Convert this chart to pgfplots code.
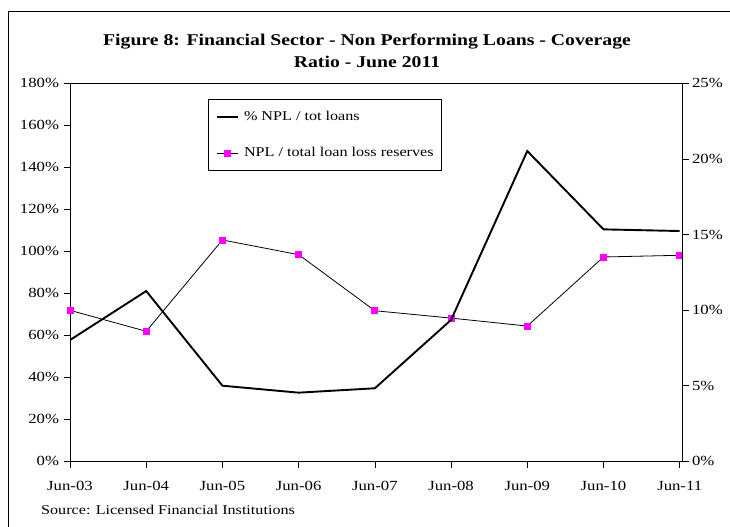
\documentclass[border=0pt]{standalone}
\usepackage{pgfplots}
\pgfplotsset{compat=1.18}
\usepackage{fontspec}
\setmainfont{Liberation Serif}[FakeStretch=1.2]
\definecolor{mag}{RGB}{255,0,255}

% NPL / total loan loss reserves (left axis, %)
\pgfplotstableread{
x ratio
0 71.9
1 61.9
2 105.4
3 98.4
4 71.7
5 68.2
6 64.4
7 97.3
8 98.1
}\coverage

% % NPL / tot loans (right axis, %)
\pgfplotstableread{
x npl
0 8.02
1 11.26
2 5.00
3 4.54
4 4.83
5 9.35
6 20.52
7 15.34
8 15.23
}\nplratio

\begin{document}
\begin{tikzpicture}
\useasboundingbox (0,0) rectangle (730bp,-527bp);
\draw[line width=0.8bp] (8bp,-527bp) -- (8bp,-11bp) -- (730bp,-11bp);
\node[font=\bfseries\fontsize{16.5}{20}\selectfont, anchor=base] at (367bp,-45bp)
  {Figure 8: Financial Sector - Non Performing Loans - Coverage};
\node[font=\bfseries\fontsize{16.5}{20}\selectfont, anchor=base] at (367bp,-67.7bp)
  {Ratio - June 2011};
\node[font=\fontsize{13.5}{16}\selectfont, anchor=base west, inner sep=0pt] at (41bp,-514bp)
  {Source: Licensed Financial Institutions};

\pgfplotsset{
  base/.style={
    scale only axis, width=612bp, height=378bp,
    at={(70bp,-461.3bp)}, anchor=south west,
    xmin=0, xmax=8.03, ymin=0,
    tick align=outside, major tick length=6.5bp,
    tick style={black, line width=0.7bp},
    ticklabel style={font=\fontsize{14}{16}\selectfont},
    axis line style={black, line width=0.9bp},
    /pgf/number format/assume math mode=true,
  }
}

\begin{axis}[base,
  ymax=180, ytick={0,20,...,180}, ytick pos=left,
  yticklabel={\pgfmathprintnumber{\tick}\%},
  yticklabel style={xshift=-1bp},
  xtick={0,1,...,8}, xtick pos=bottom,
  xticklabels={Jun-03,Jun-04,Jun-05,Jun-06,Jun-07,Jun-08,Jun-09,Jun-10,Jun-11},
  xticklabel style={yshift=-10bp},
]
\addplot[black, line width=0.8bp, mark=square*, mark size=3bp,
  mark options={draw=mag, fill=mag}] table[x=x, y=ratio] {\coverage};
\end{axis}

\begin{axis}[base,
  ymax=25, ytick={0,5,...,25},
  axis x line=none, axis y line*=right,
  yticklabel={\pgfmathprintnumber{\tick}\%},
  legend style={at={(0.225,0.9577)}, anchor=north west, draw=black,
    line width=0.8bp, font=\fontsize{13.5}{16}\selectfont,
    inner xsep=8bp, inner ysep=11bp, row sep=24bp, column sep=5bp,
    nodes={inner sep=0pt, text height=9.5bp, text depth=3bp}},
  legend cell align=left,
  legend image code/.code={\draw[mark repeat=2, mark phase=2, #1]
    plot coordinates {(0bp,0bp) (10.5bp,0bp) (21bp,0bp)};},
]
\addplot[black, line width=1.9bp] table[x=x, y=npl] {\nplratio};
\addlegendentry{\% NPL / tot loans}
\addlegendimage{black, line width=0.8bp, mark=square*, mark size=3bp,
  mark options={draw=mag, fill=mag}}
\addlegendentry{NPL / total loan loss reserves}
\end{axis}
\end{tikzpicture}
\end{document}
